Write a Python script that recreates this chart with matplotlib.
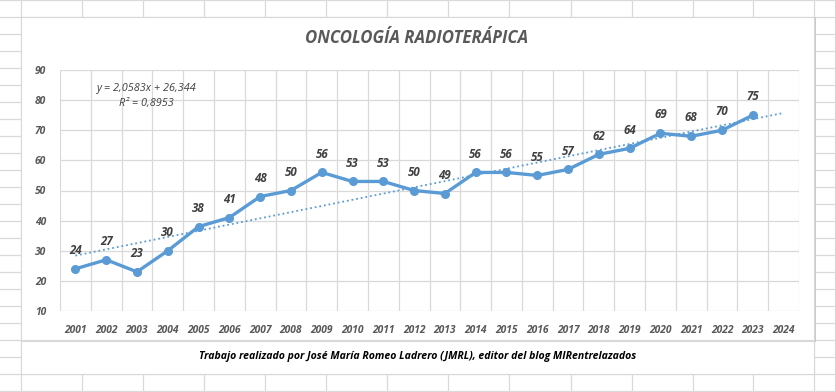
import numpy as np
import matplotlib
matplotlib.use("Agg")
from matplotlib import pyplot as plt
from matplotlib.patches import Rectangle

# data
years = [str(y) for y in range(2001, 2025)]
values = [24, 27, 23, 30, 38, 41, 48, 50, 56, 53, 53, 50, 49, 56, 56, 55,
          57, 62, 64, 69, 68, 70, 75]
trend_slope = 2.0583
trend_intercept = 26.344
r_squared = 0.8953
y_ticks = [10, 20, 30, 40, 50, 60, 70, 80, 90]

title = "ONCOLOGÍA RADIOTERÁPICA"
footer = "Trabajo realizado por José María Romeo Ladrero (JMRL), editor del blog MIRentrelazados"

W, H = 836, 392
plt.rcParams['font.family'] = ['Open Sans', 'DejaVu Sans']

fig = plt.figure(figsize=(W / 100, H / 100), dpi=100)

# spreadsheet cells in the background
bg = fig.add_axes([0, 0, 1, 1])
bg.set_xlim(0, W)
bg.set_ylim(H, 0)
bg.set_axis_off()
cell_color = '#d9d9d9'
for x in [21, 82, 143, 204, 265, 326, 387, 448, 509, 571, 632, 693, 753, 814, 835]:
    bg.plot([x, x], [0, H], color=cell_color, lw=0.9, zorder=0)
for y in range(0, H + 17, 17):
    bg.plot([0, W], [y, y], color=cell_color, lw=0.9, zorder=0)

# chart area with shadow
bg.add_patch(Rectangle((21, 17), 795, 325, facecolor='#c9c9c9', edgecolor='none', zorder=1))
bg.add_patch(Rectangle((21, 17), 793, 323, facecolor='white', edgecolor='#d9d9d9', lw=0.8, zorder=2))
# footer box
bg.add_patch(Rectangle((21, 341), 793, 33, facecolor='white', edgecolor='#d9d9d9', lw=0.8, zorder=2))

bg.text(417, 38, title, ha='center', va='center', fontsize=12.1,
        fontweight='bold', fontstyle='italic', color='#595959', zorder=3)
bg.text(418, 357, footer, ha='center', va='center', fontsize=7.6,
        fontweight='bold', fontstyle='italic', color='black', zorder=3)

# plot area
left, right, top, bottom = 60, 799, 70, 311
ax = fig.add_axes([left / W, 1 - bottom / H, (right - left) / W, (bottom - top) / H])
ax.set_facecolor('none')
x = np.arange(len(years))
ax.set_xlim(-0.5, len(years) - 0.5)
ax.set_ylim(10, 90)

for v in y_ticks:
    ax.axhline(v, color='#d9d9d9', lw=0.9, zorder=0)
for b in np.arange(-0.5, len(years) + 0.5, 1):
    ax.axvline(b, color='#d9d9d9', lw=0.9, zorder=0)
for s in ax.spines.values():
    s.set_visible(False)

line_color = '#5b9bd5'
xv = x[:len(values)]
ax.plot(xv, values, color=line_color, lw=2.4, marker='o', markersize=5.5, zorder=3)

xt = np.arange(1, len(years) + 1)
ax.plot(xt - 1, trend_slope * xt + trend_intercept, color=line_color,
        lw=1.3, linestyle=(0, (1, 1.6)), zorder=2)

for xi, v in zip(xv, values):
    ax.annotate(str(v), (xi, v), xytext=(0, 8.5), textcoords='offset points',
                ha='center', va='bottom', fontsize=8.3, fontweight='bold',
                fontstyle='italic', color='#404040')

ax.set_xticks(x)
ax.set_xticklabels(years)
ax.set_yticks(y_ticks)
ax.tick_params(length=0, labelsize=7.4, labelcolor='#595959', pad=10)
for lab in ax.get_xticklabels() + ax.get_yticklabels():
    lab.set_fontweight('bold')
    lab.set_fontstyle('italic')

eq = "y = 2,0583x + 26,344"
r2 = "R² = 0,8953"
ax.text(2.3, 84, eq, ha='center', va='center', fontsize=7.8,
        fontstyle='italic', color='#404040')
ax.text(2.3, 79, r2, ha='center', va='center', fontsize=7.8,
        fontstyle='italic', color='#404040')

fig.savefig('out.png', dpi=100)
